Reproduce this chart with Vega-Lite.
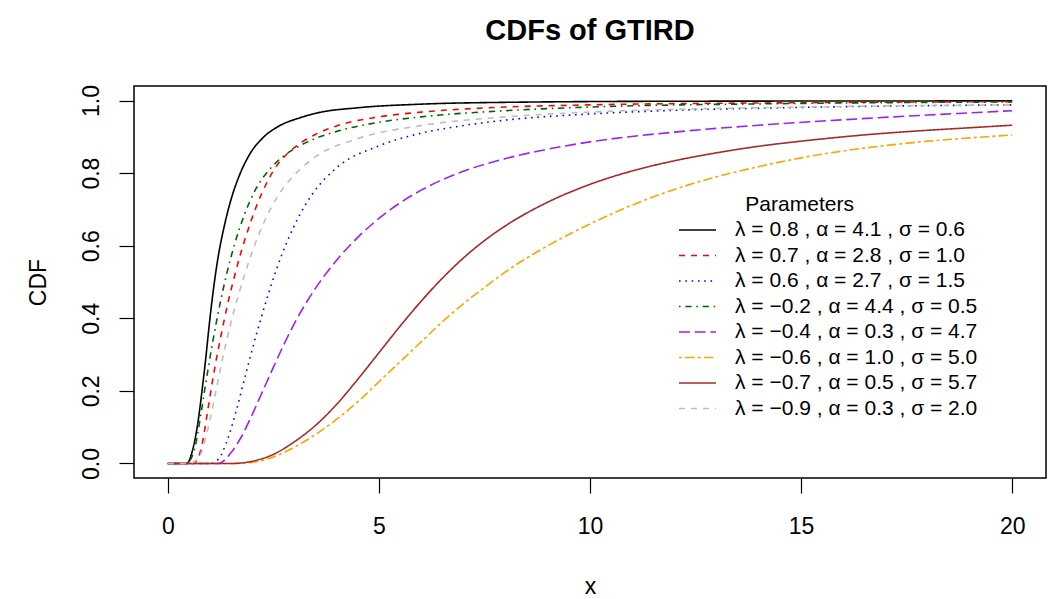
{
  "$schema": "https://vega.github.io/schema/vega-lite/v6.json",
  "autosize": {"type": "none"},
  "width": 912,
  "height": 392,
  "padding": {"left": 134, "top": 86, "right": 7, "bottom": 121},
  "background": "white",
  "title": {"text": "CDFs of GTIRD", "font": "Liberation Sans", "fontSize": 29, "fontWeight": "bold", "color": "black", "anchor": "middle", "baseline": "alphabetic", "offset": 16},
  "config": {
    "view": {"stroke": "black", "strokeWidth": 1.5},
    "axis": {"grid": false, "domain": false, "tickColor": "black", "tickWidth": 1.2, "tickSize": 15, "labelColor": "black", "labelFont": "Liberation Sans", "labelFontSize": 23, "titleFont": "Liberation Sans", "titleFontSize": 23, "titleFontWeight": "normal", "titleColor": "black"}
  },
  "data": {"values": [
    {"s": "A", "x": 0, "y": 0}, {"s": "A", "x": 0.45, "y": 0}, {"s": "A", "x": 0.59, "y": 0.038}, {"s": "A", "x": 0.71, "y": 0.11}, {"s": "A", "x": 0.8, "y": 0.19}, {"s": "A", "x": 0.9, "y": 0.29}, {"s": "A", "x": 0.98, "y": 0.38}, {"s": "A", "x": 1.06, "y": 0.46}, {"s": "A", "x": 1.18, "y": 0.56}, {"s": "A", "x": 1.34, "y": 0.655}, {"s": "A", "x": 1.5, "y": 0.728}, {"s": "A", "x": 1.69, "y": 0.792}, {"s": "A", "x": 1.93, "y": 0.85}, {"s": "A", "x": 2.25, "y": 0.897}, {"s": "A", "x": 2.64, "y": 0.93}, {"s": "A", "x": 3.12, "y": 0.952}, {"s": "A", "x": 3.55, "y": 0.966}, {"s": "A", "x": 4.5, "y": 0.98}, {"s": "A", "x": 6, "y": 0.99}, {"s": "A", "x": 8, "y": 0.995}, {"s": "A", "x": 12, "y": 0.998}, {"s": "A", "x": 20, "y": 0.999},
    {"s": "B", "x": 0, "y": 0}, {"s": "B", "x": 0.6, "y": 0}, {"s": "B", "x": 0.7, "y": 0.01}, {"s": "B", "x": 0.82, "y": 0.057}, {"s": "B", "x": 0.945, "y": 0.145}, {"s": "B", "x": 1.1, "y": 0.255}, {"s": "B", "x": 1.26, "y": 0.352}, {"s": "B", "x": 1.42, "y": 0.44}, {"s": "B", "x": 1.58, "y": 0.516}, {"s": "B", "x": 1.73, "y": 0.58}, {"s": "B", "x": 1.89, "y": 0.64}, {"s": "B", "x": 2.09, "y": 0.706}, {"s": "B", "x": 2.33, "y": 0.77}, {"s": "B", "x": 2.52, "y": 0.81}, {"s": "B", "x": 2.8, "y": 0.85}, {"s": "B", "x": 3.12, "y": 0.881}, {"s": "B", "x": 3.47, "y": 0.905}, {"s": "B", "x": 4, "y": 0.93}, {"s": "B", "x": 5, "y": 0.955}, {"s": "B", "x": 6, "y": 0.968}, {"s": "B", "x": 8, "y": 0.982}, {"s": "B", "x": 10, "y": 0.988}, {"s": "B", "x": 15, "y": 0.994}, {"s": "B", "x": 20, "y": 0.997},
    {"s": "C", "x": 0, "y": 0}, {"s": "C", "x": 1.0, "y": 0}, {"s": "C", "x": 1.2, "y": 0.012}, {"s": "C", "x": 1.38, "y": 0.055}, {"s": "C", "x": 1.62, "y": 0.145}, {"s": "C", "x": 1.85, "y": 0.248}, {"s": "C", "x": 2.09, "y": 0.352}, {"s": "C", "x": 2.33, "y": 0.447}, {"s": "C", "x": 2.56, "y": 0.53}, {"s": "C", "x": 2.84, "y": 0.615}, {"s": "C", "x": 3.12, "y": 0.684}, {"s": "C", "x": 3.43, "y": 0.743}, {"s": "C", "x": 4, "y": 0.815}, {"s": "C", "x": 5, "y": 0.875}, {"s": "C", "x": 6, "y": 0.91}, {"s": "C", "x": 7, "y": 0.931}, {"s": "C", "x": 8, "y": 0.946}, {"s": "C", "x": 10, "y": 0.963}, {"s": "C", "x": 12, "y": 0.973}, {"s": "C", "x": 15, "y": 0.981}, {"s": "C", "x": 20, "y": 0.988},
    {"s": "D", "x": 0, "y": 0}, {"s": "D", "x": 0.44, "y": 0}, {"s": "D", "x": 0.63, "y": 0.038}, {"s": "D", "x": 0.79, "y": 0.14}, {"s": "D", "x": 0.905, "y": 0.225}, {"s": "D", "x": 1.06, "y": 0.332}, {"s": "D", "x": 1.22, "y": 0.43}, {"s": "D", "x": 1.38, "y": 0.515}, {"s": "D", "x": 1.58, "y": 0.603}, {"s": "D", "x": 1.81, "y": 0.684}, {"s": "D", "x": 2.09, "y": 0.757}, {"s": "D", "x": 2.41, "y": 0.81}, {"s": "D", "x": 2.72, "y": 0.845}, {"s": "D", "x": 3.12, "y": 0.875}, {"s": "D", "x": 3.51, "y": 0.896}, {"s": "D", "x": 4, "y": 0.915}, {"s": "D", "x": 5, "y": 0.94}, {"s": "D", "x": 6, "y": 0.955}, {"s": "D", "x": 8, "y": 0.972}, {"s": "D", "x": 10, "y": 0.982}, {"s": "D", "x": 15, "y": 0.992}, {"s": "D", "x": 20, "y": 0.996},
    {"s": "E", "x": 0, "y": 0}, {"s": "E", "x": 1.2, "y": 0}, {"s": "E", "x": 1.5, "y": 0.03}, {"s": "E", "x": 1.75, "y": 0.075}, {"s": "E", "x": 2.0, "y": 0.135}, {"s": "E", "x": 2.25, "y": 0.2}, {"s": "E", "x": 2.5, "y": 0.265}, {"s": "E", "x": 2.75, "y": 0.328}, {"s": "E", "x": 3.0, "y": 0.386}, {"s": "E", "x": 3.5, "y": 0.483}, {"s": "E", "x": 4.0, "y": 0.56}, {"s": "E", "x": 4.5, "y": 0.623}, {"s": "E", "x": 5.0, "y": 0.675}, {"s": "E", "x": 5.5, "y": 0.718}, {"s": "E", "x": 6.0, "y": 0.753}, {"s": "E", "x": 7, "y": 0.805}, {"s": "E", "x": 8, "y": 0.84}, {"s": "E", "x": 9, "y": 0.866}, {"s": "E", "x": 10, "y": 0.886}, {"s": "E", "x": 12, "y": 0.913}, {"s": "E", "x": 14, "y": 0.932}, {"s": "E", "x": 16, "y": 0.947}, {"s": "E", "x": 18, "y": 0.96}, {"s": "E", "x": 20, "y": 0.972},
    {"s": "F", "x": 0, "y": 0}, {"s": "F", "x": 1.6, "y": 0}, {"s": "F", "x": 2.0, "y": 0.003}, {"s": "F", "x": 2.5, "y": 0.018}, {"s": "F", "x": 3.0, "y": 0.045}, {"s": "F", "x": 3.5, "y": 0.08}, {"s": "F", "x": 4.0, "y": 0.122}, {"s": "F", "x": 4.5, "y": 0.17}, {"s": "F", "x": 5.0, "y": 0.225}, {"s": "F", "x": 5.5, "y": 0.28}, {"s": "F", "x": 6.0, "y": 0.335}, {"s": "F", "x": 6.5, "y": 0.39}, {"s": "F", "x": 7.0, "y": 0.44}, {"s": "F", "x": 7.5, "y": 0.485}, {"s": "F", "x": 8.0, "y": 0.528}, {"s": "F", "x": 9, "y": 0.6}, {"s": "F", "x": 10, "y": 0.66}, {"s": "F", "x": 11, "y": 0.712}, {"s": "F", "x": 12, "y": 0.755}, {"s": "F", "x": 13, "y": 0.79}, {"s": "F", "x": 14, "y": 0.818}, {"s": "F", "x": 15, "y": 0.842}, {"s": "F", "x": 16, "y": 0.861}, {"s": "F", "x": 17, "y": 0.876}, {"s": "F", "x": 18, "y": 0.888}, {"s": "F", "x": 19, "y": 0.897}, {"s": "F", "x": 20, "y": 0.905},
    {"s": "G", "x": 0, "y": 0}, {"s": "G", "x": 1.5, "y": 0}, {"s": "G", "x": 2.0, "y": 0.006}, {"s": "G", "x": 2.5, "y": 0.025}, {"s": "G", "x": 3.0, "y": 0.06}, {"s": "G", "x": 3.5, "y": 0.105}, {"s": "G", "x": 4.0, "y": 0.163}, {"s": "G", "x": 4.5, "y": 0.232}, {"s": "G", "x": 5.0, "y": 0.305}, {"s": "G", "x": 5.5, "y": 0.378}, {"s": "G", "x": 6.0, "y": 0.447}, {"s": "G", "x": 6.5, "y": 0.51}, {"s": "G", "x": 7.0, "y": 0.566}, {"s": "G", "x": 7.5, "y": 0.614}, {"s": "G", "x": 8.0, "y": 0.655}, {"s": "G", "x": 9, "y": 0.72}, {"s": "G", "x": 10, "y": 0.769}, {"s": "G", "x": 11, "y": 0.806}, {"s": "G", "x": 12, "y": 0.834}, {"s": "G", "x": 13, "y": 0.856}, {"s": "G", "x": 14, "y": 0.874}, {"s": "G", "x": 15, "y": 0.888}, {"s": "G", "x": 16, "y": 0.9}, {"s": "G", "x": 17, "y": 0.91}, {"s": "G", "x": 18, "y": 0.918}, {"s": "G", "x": 19, "y": 0.925}, {"s": "G", "x": 20, "y": 0.932},
    {"s": "H", "x": 0, "y": 0}, {"s": "H", "x": 0.5, "y": 0}, {"s": "H", "x": 0.74, "y": 0.018}, {"s": "H", "x": 0.98, "y": 0.11}, {"s": "H", "x": 1.14, "y": 0.2}, {"s": "H", "x": 1.3, "y": 0.29}, {"s": "H", "x": 1.5, "y": 0.39}, {"s": "H", "x": 1.73, "y": 0.486}, {"s": "H", "x": 1.93, "y": 0.56}, {"s": "H", "x": 2.17, "y": 0.635}, {"s": "H", "x": 2.44, "y": 0.703}, {"s": "H", "x": 2.72, "y": 0.756}, {"s": "H", "x": 3.04, "y": 0.8}, {"s": "H", "x": 3.51, "y": 0.846}, {"s": "H", "x": 4.5, "y": 0.895}, {"s": "H", "x": 6, "y": 0.931}, {"s": "H", "x": 8, "y": 0.955}, {"s": "H", "x": 10, "y": 0.968}, {"s": "H", "x": 15, "y": 0.982}, {"s": "H", "x": 20, "y": 0.988}
  ]},
  "mark": {"type": "line", "interpolate": "monotone", "strokeWidth": 1.6, "clip": true},
  "encoding": {
    "x": {"field": "x", "type": "quantitative", "scale": {"domain": [-0.8, 20.8], "nice": false, "zero": false}, "axis": {"values": [0, 5, 10, 15, 20], "format": "d", "labelPadding": 22, "title": "x", "titleBaseline": "alphabetic", "titleY": 115}},
    "y": {"field": "y", "type": "quantitative", "scale": {"domain": [-0.04, 1.04], "nice": false, "zero": false}, "axis": {"values": [0, 0.2, 0.4, 0.6, 0.8, 1.0], "format": ".1f", "labelAngle": -90, "labelAlign": "center", "labelBaseline": "alphabetic", "labelPadding": 21, "title": "CDF", "titleAngle": -90, "titleBaseline": "alphabetic", "titleX": -89, "titleY": 196}},
    "color": {"field": "s", "type": "nominal", "scale": {"domain": ["A", "B", "C", "D", "E", "F", "G", "H"], "range": ["#000000", "#FF0000", "#0000FF", "#006400", "#A020F0", "#FFA500", "#A52A2A", "#BEBEBE"]},
      "legend": {"orient": "none", "legendX": 553, "legendY": 108, "title": "\u200b\u00a0\u00a0\u00a0\u00a0\u00a0\u00a0\u00a0\u00a0\u00a0\u00a0Parameters", "titleFont": "Liberation Sans", "titleFontSize": 21, "titleFontWeight": "normal", "titleColor": "black", "titleAnchor": "start", "titleAlign": "left", "titlePadding": 4.5, "labelFont": "Liberation Sans", "labelFontSize": 21, "labelColor": "black", "labelOffset": 27, "labelLimit": 500, "symbolType": "M-2,0H2", "symbolSize": 342, "symbolStrokeWidth": 1.6, "rowPadding": 3.5, "padding": 0,
        "labelExpr": "{'A': 'λ = 0.8 ,  α = 4.1 ,  σ = 0.6', 'B': 'λ = 0.7 ,  α = 2.8 ,  σ = 1.0', 'C': 'λ = 0.6 ,  α = 2.7 ,  σ = 1.5', 'D': 'λ = −0.2 ,  α = 4.4 ,  σ = 0.5', 'E': 'λ = −0.4 ,  α = 0.3 ,  σ = 4.7', 'F': 'λ = −0.6 ,  α = 1.0 ,  σ = 5.0', 'G': 'λ = −0.7 ,  α = 0.5 ,  σ = 5.7', 'H': 'λ = −0.9 ,  α = 0.3 ,  σ = 2.0'}[datum.label]"}},
    "strokeDash": {"field": "s", "type": "nominal", "scale": {"domain": ["A", "B", "C", "D", "E", "F", "G", "H"], "range": [[1, 0], [6, 6], [1.6, 4.7], [1.6, 4.7, 6.3, 4.7], [11, 4.7], [3.1, 3.1, 9.4, 3.1], [1, 0], [6, 6]]}, "legend": null}
  }
}
